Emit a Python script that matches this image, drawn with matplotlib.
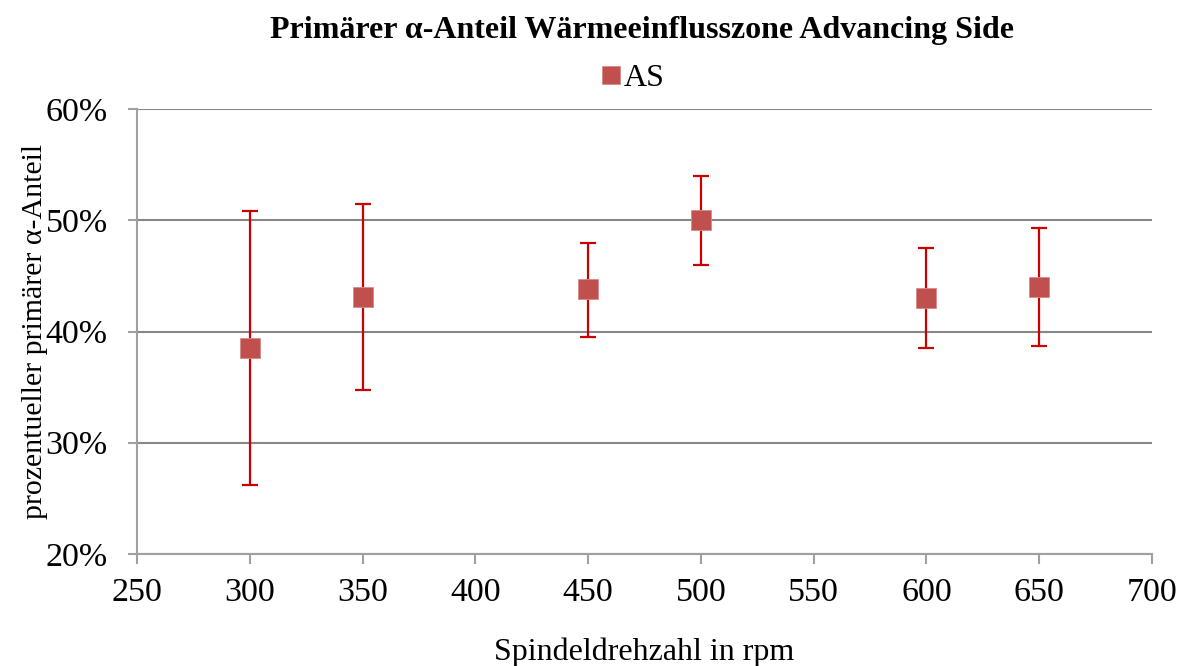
import matplotlib.pyplot as plt
import numpy as np

# Spindeldrehzahl vs. primaerer alpha-Anteil (WEZ, Advancing Side)
drehzahl = [300, 350, 450, 500, 600, 650]
anteil = [38.5, 43.1, 43.8, 50.0, 43.0, 44.0]
fehler_unten = [12.3, 8.4, 4.3, 4.0, 4.5, 5.3]
fehler_oben = [12.3, 8.4, 4.2, 4.0, 4.5, 5.3]

x_ticks = [250, 300, 350, 400, 450, 500, 550, 600, 650, 700]
y_ticks = [20, 30, 40, 50, 60]

plt.rcParams['font.family'] = ['Liberation Serif', 'DejaVu Serif']

fig = plt.figure(figsize=(11.83, 6.66), dpi=100)
ax = fig.add_axes([0.1158, 0.1682, 0.858, 0.6681])

grid_col = '#878787'
for yv in y_ticks:
    ax.axhline(yv, color=grid_col, lw=1.5, zorder=1)

ax.errorbar(drehzahl, anteil, yerr=[fehler_unten, fehler_oben], fmt='none',
            ecolor='#CC0000', elinewidth=1.6, capsize=5.5, capthick=1.6, zorder=2)
ax.plot(drehzahl, anteil, ls='none', marker='s', markersize=14.5,
        color='#C0504D', markeredgecolor='#D98A88', markeredgewidth=0.6,
        label='AS', zorder=3)

ax.set_xlim(250, 700)
ax.set_ylim(20, 60)
ax.set_xticks(x_ticks)
ax.set_yticks(y_ticks)
ax.set_yticklabels([f'{v}%' for v in y_ticks])

for s in ['top', 'right']:
    ax.spines[s].set_visible(False)
for s in ['left', 'bottom']:
    ax.spines[s].set_color('#a0a0a0')
    ax.spines[s].set_linewidth(1.5)
ax.tick_params(axis='both', direction='out', width=1.5,
               color='#a0a0a0', labelsize=24.5)
ax.tick_params(axis='x', length=7, pad=10)
ax.tick_params(axis='y', length=6.5, pad=14.5)

ax.set_xlabel('Spindeldrehzahl in rpm', fontsize=23, labelpad=21)
ax.set_ylabel('prozentueller primärer α-Anteil', fontsize=21.5, labelpad=-2)

fig.text(0.543, 0.954, 'Primärer α-Anteil Wärmeeinflusszone Advancing Side',
         ha='center', va='center', fontsize=23, fontweight='bold')
fig.legend(loc='center', bbox_to_anchor=(0.535, 0.882), frameon=False,
           fontsize=23, handlelength=0.6, handletextpad=0.1, markerscale=0.85,
           borderaxespad=0)

fig.savefig('out.png', dpi=100)
